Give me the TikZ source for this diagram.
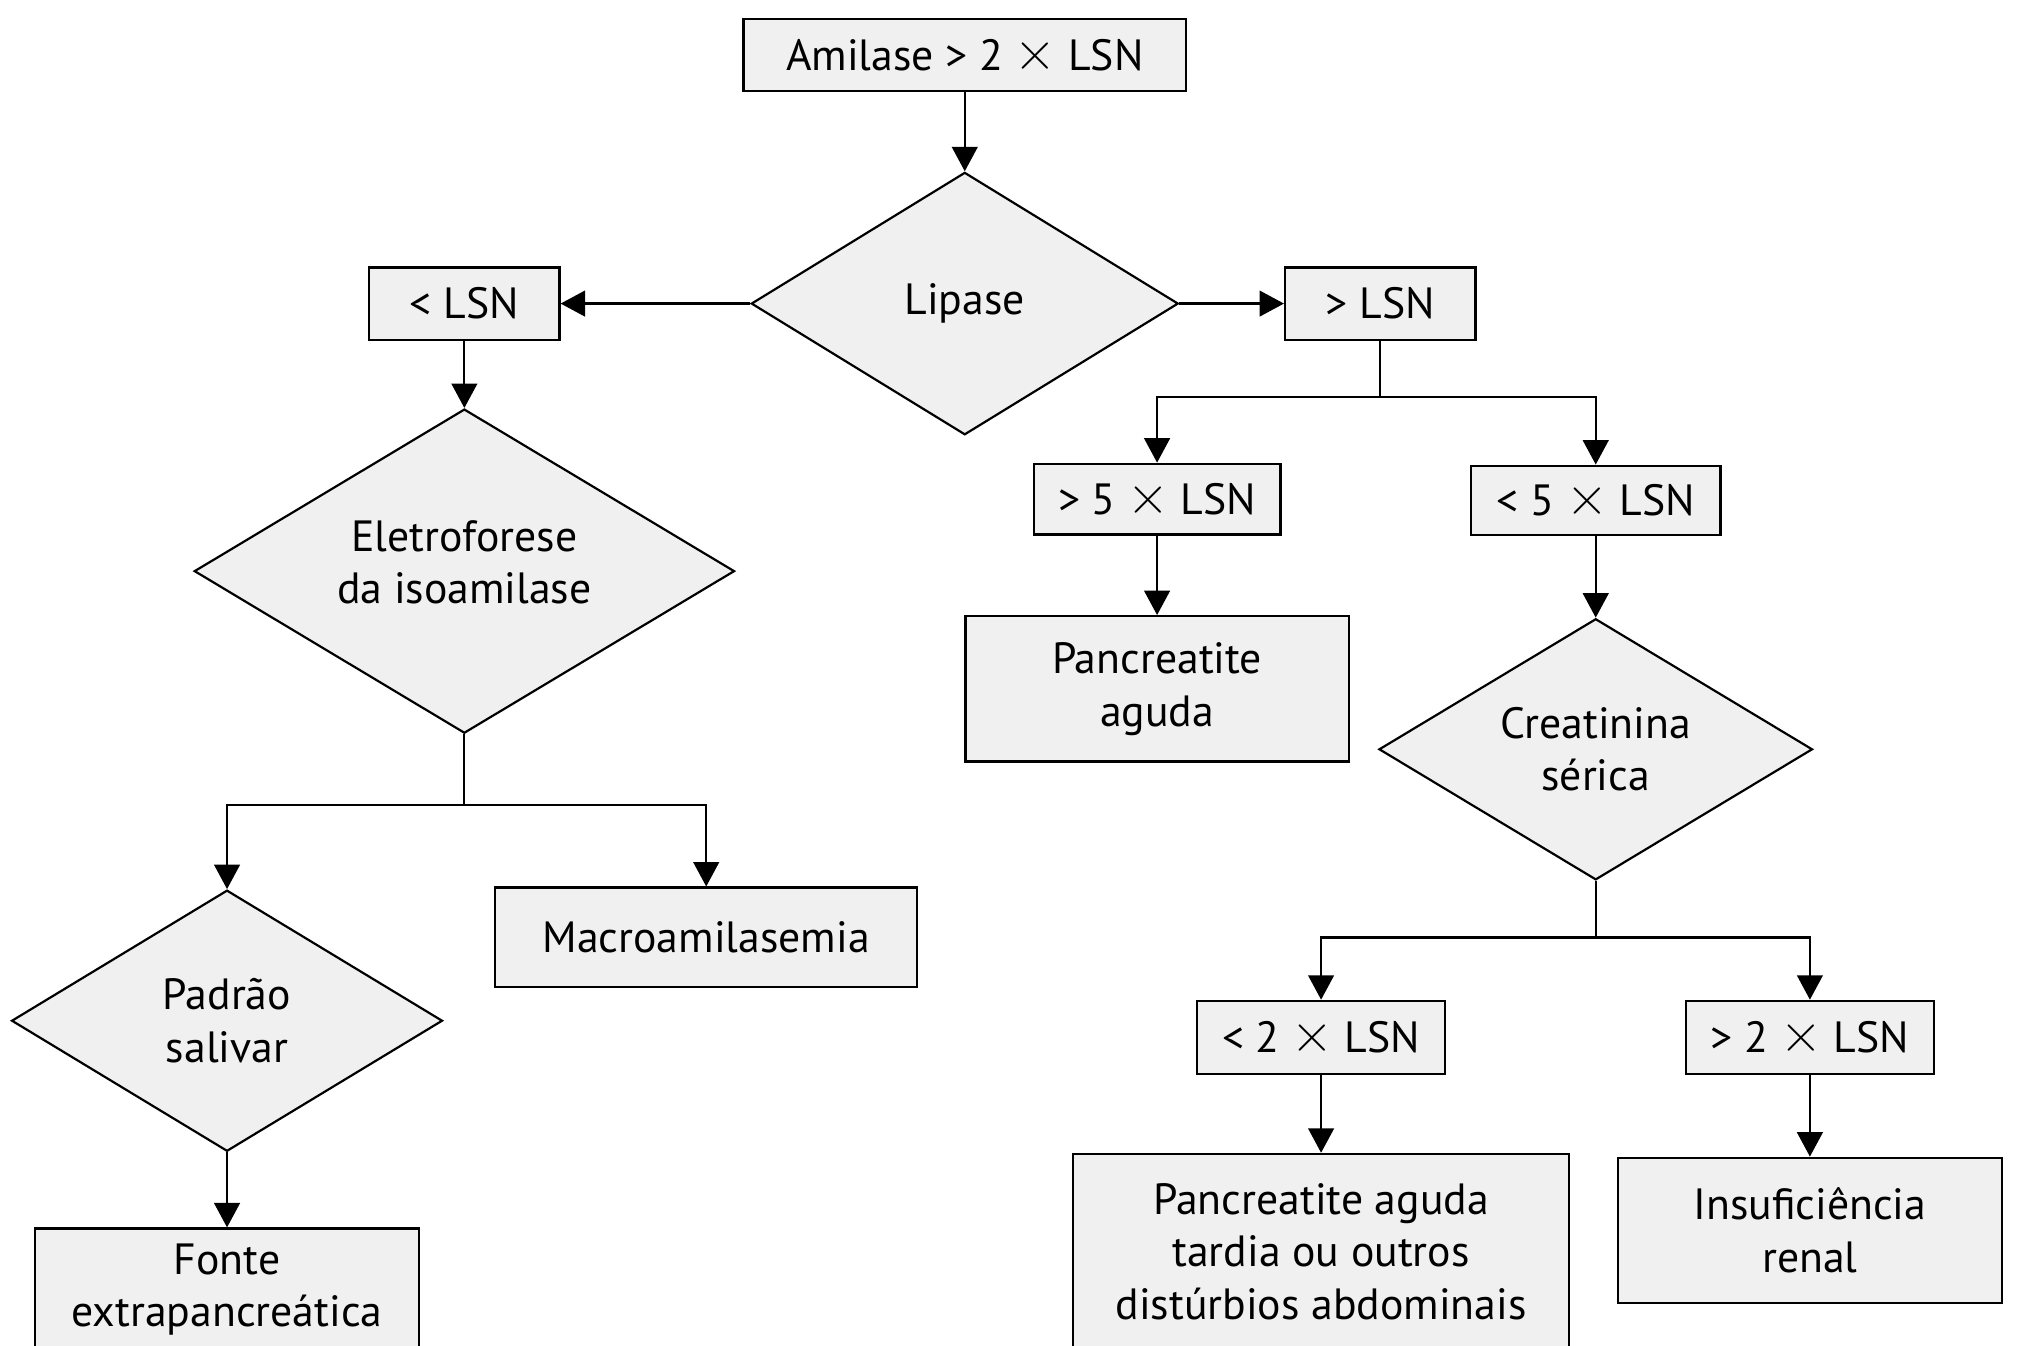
\documentclass[tikz,border=0pt]{standalone}
\usepackage{fontspec}
\setmainfont{PT Sans}
\newfontfamily\crossfont{Latin Modern Roman}
\usetikzlibrary{shapes.geometric,arrows.meta}
\definecolor{boxfill}{HTML}{F0F0F0}
% a thin, wide multiplication cross
\newcommand{\tms}{{\crossfont\fontsize{45}{41}\selectfont ×}}
\begin{document}
\begin{tikzpicture}[x=1pt,y=-1pt,
  every node/.style={font=\fontsize{34}{41}\selectfont, align=center, text=black},
  box/.style={draw, line width=1.7pt, fill=boxfill, rectangle, inner sep=0pt},
  test/.style={draw, line width=1.7pt, fill=boxfill, diamond, inner sep=0pt, aspect=1.6},
  arr/.style={line width=1.7pt, -{Triangle[length=19pt,width=20pt]}},
  ln/.style={line width=1.7pt}]
\clip (0,0) rectangle (1568,1046);
\fill[white] (0,0) rectangle (1568,1046);

% nodes
\node[box, minimum width=344pt, minimum height=56pt] (top) at (750,43) {Amilase > 2 \tms{} LSN};
\node[test, minimum width=332pt, minimum height=204pt] (lipase) at (750,236) {Lipase};
\node[box, minimum width=148pt, minimum height=56pt] (lsnL) at (361,236) {< LSN};
\node[box, minimum width=148pt, minimum height=56pt] (lsnR) at (1073,236) {> LSN};
\node[test, minimum width=420pt, minimum height=252pt] (eletro) at (361,444) {Eletroforese\\da isoamilase\\[-27pt]\mbox{}};
\node[box, minimum width=328pt, minimum height=77pt] (macro) at (549,728.5) {Macroamilasemia};
\node[test, minimum width=335pt, minimum height=203pt] (padrao) at (176.5,793.5) {Padrão\\salivar};
\node[box, minimum width=298pt, minimum height=95pt] (fonte) at (176.5,1002.5) {Fonte\\extrapancreática};
\node[box, minimum width=192pt, minimum height=55pt] (gt5) at (899.5,388) {> 5 \tms{} LSN};
\node[box, minimum width=194pt, minimum height=54pt] (lt5) at (1240.5,389) {< 5 \tms{} LSN};
\node[box, minimum width=298pt, minimum height=113pt] (pa) at (899.5,535.5) {Pancreatite\\aguda};
\node[test, minimum width=337pt, minimum height=203pt] (creat) at (1240.5,582.5) {Creatinina\\sérica};
\node[box, minimum width=193pt, minimum height=57pt] (lt2) at (1027,806.5) {< 2 \tms{} LSN};
\node[box, minimum width=193pt, minimum height=57pt] (gt2) at (1407,806.5) {> 2 \tms{} LSN};
\node[box, minimum width=386pt, minimum height=152pt] (tardia) at (1027,973) {Pancreatite aguda\\tardia ou outros\\distúrbios abdominais};
\node[box, minimum width=299pt, minimum height=113pt] (renal) at (1407,956.5) {Insuficiência\\renal};

% branch points
\path (eletro.south) ++(0,55) coordinate (b1);
\path (lsnR.south) ++(0,44) coordinate (b2);
\path (creat.south) ++(0,44) coordinate (b3);

% connectors
\draw[arr] (top) -- (lipase.north);
\draw[arr] (lipase.west) -- (lsnL.east);
\draw[arr] (lipase.east) -- (lsnR.west);
\draw[arr] (lsnL) -- (eletro.north);
\draw[ln] (eletro.south) -- (b1);
\draw[arr] (b1) -| (padrao.north);
\draw[arr] (b1) -| (macro.north);
\draw[arr] (padrao.south) -- (fonte.north);
\draw[ln] (lsnR.south) -- (b2);
\draw[arr] (b2) -| (gt5.north);
\draw[arr] (b2) -| (lt5.north);
\draw[arr] (gt5) -- (pa);
\draw[arr] (lt5) -- (creat.north);
\draw[ln] (creat.south) -- (b3);
\draw[arr] (b3) -| (lt2.north);
\draw[arr] (b3) -| (gt2.north);
\draw[arr] (lt2) -- (tardia);
\draw[arr] (gt2) -- (renal);
\end{tikzpicture}
\end{document}
